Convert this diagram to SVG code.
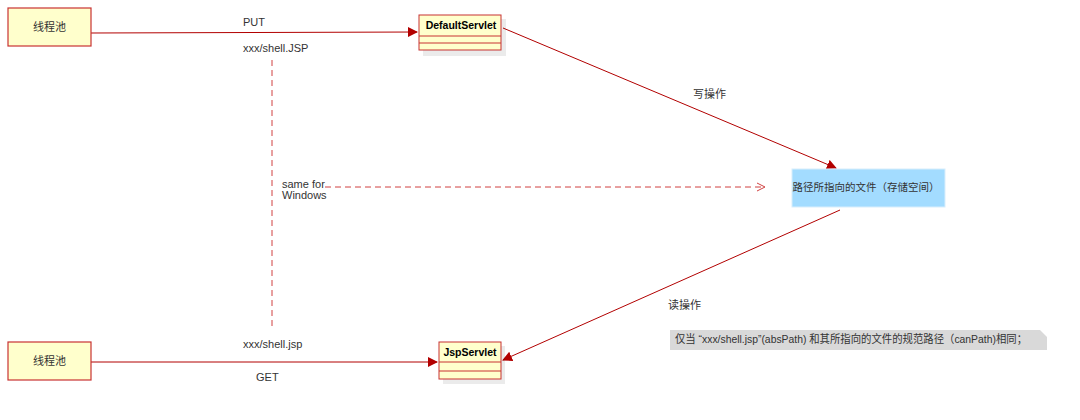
<svg xmlns="http://www.w3.org/2000/svg" width="1080" height="420" viewBox="0 0 1080 420">
<style>
text{font-family:"Liberation Sans","Noto Sans CJK SC",sans-serif;font-size:11px;fill:#333}
.box{fill:#ffffcc;stroke:#c83232;stroke-width:1.2}
.cls{fill:#ffffcc;stroke:#c83232;stroke-width:1}
.sh{fill:#000;opacity:0.08}
.ln{fill:none;stroke:#b20000;stroke-width:1}
.dl{fill:none;stroke:#d04040;stroke-width:1;stroke-dasharray:6 4}
.b{font-weight:bold;fill:#000;font-size:10.5px}
.sm{font-size:10.5px}
</style>
<defs>
<marker id="fa" viewBox="0 0 10 10" refX="9" refY="5" markerWidth="10" markerHeight="10" markerUnits="userSpaceOnUse" orient="auto">
<path d="M0,0 L10,5 L0,10 Z" fill="#b20000"/>
</marker>
<marker id="oa" viewBox="0 0 10 10" refX="9" refY="5" markerWidth="10" markerHeight="10" markerUnits="userSpaceOnUse" orient="auto">
<path d="M1,1 L9,5 L1,9" fill="none" stroke="#d04040" stroke-width="1"/>
</marker>
</defs>
<rect width="1080" height="420" fill="#fff"/>
<g id="connectors">
<path class="ln" d="M91,33 L417,32" marker-end="url(#fa)"/>
<path class="ln" d="M91,362 L437,362" marker-end="url(#fa)"/>
<path class="ln" d="M503,28 L836,168" marker-end="url(#fa)"/>
<path class="ln" d="M840,210 L503,360" marker-end="url(#fa)"/>
<path class="dl" d="M272,60 L272,330"/>
<path class="dl" d="M325,187 L765,187" marker-end="url(#oa)"/>
<text x="243" y="26">PUT</text>
<text x="243" y="52">xxx/shell.JSP</text>
<text x="282" y="188">same for</text>
<text x="282" y="199">Windows</text>
<text x="693" y="98">写操作</text>
<text x="668" y="309">读操作</text>
<text x="243" y="348">xxx/shell.jsp</text>
<text x="256" y="381">GET</text>
</g>
<g id="pool1">
<rect class="box" x="8" y="8" width="83" height="38"/>
<text x="49.5" y="31" text-anchor="middle">线程池</text>
</g>
<g id="pool2">
<rect class="box" x="8" y="342" width="83" height="38"/>
<text x="49.5" y="365" text-anchor="middle">线程池</text>
</g>
<g id="defaultServlet">
<rect class="sh" x="423" y="19" width="83" height="37"/>
<rect class="cls" x="419" y="15" width="82" height="35"/>
<line class="cls" x1="419" y1="36" x2="501" y2="36"/>
<line class="cls" x1="419" y1="43" x2="501" y2="43"/>
<text class="b" x="461" y="29" text-anchor="middle">DefaultServlet</text>
</g>
<g id="jspServlet">
<rect class="sh" x="443" y="346" width="62" height="38"/>
<rect class="cls" x="439" y="342" width="62" height="37"/>
<line class="cls" x1="439" y1="362" x2="501" y2="362"/>
<line class="cls" x1="439" y1="371" x2="501" y2="371"/>
<text class="b" x="470" y="356" text-anchor="middle">JspServlet</text>
</g>
<g id="file">
<rect x="792" y="169" width="153" height="38" fill="#a3dcff" stroke="#d8eefc" stroke-width="1"/>
<text class="sm" x="866" y="191" text-anchor="middle">路径所指向的文件（存储空间）</text>
</g>
<g id="note">
<path d="M670,330 L1040,330 L1047,337 L1047,350 L670,350 Z" fill="#d9d9d9"/>
<text x="675" y="343" textLength="352" lengthAdjust="spacingAndGlyphs">仅当 “xxx/shell.jsp”(absPath) 和其所指向的文件的规范路径（canPath)相同；</text>
</g>
</svg>
